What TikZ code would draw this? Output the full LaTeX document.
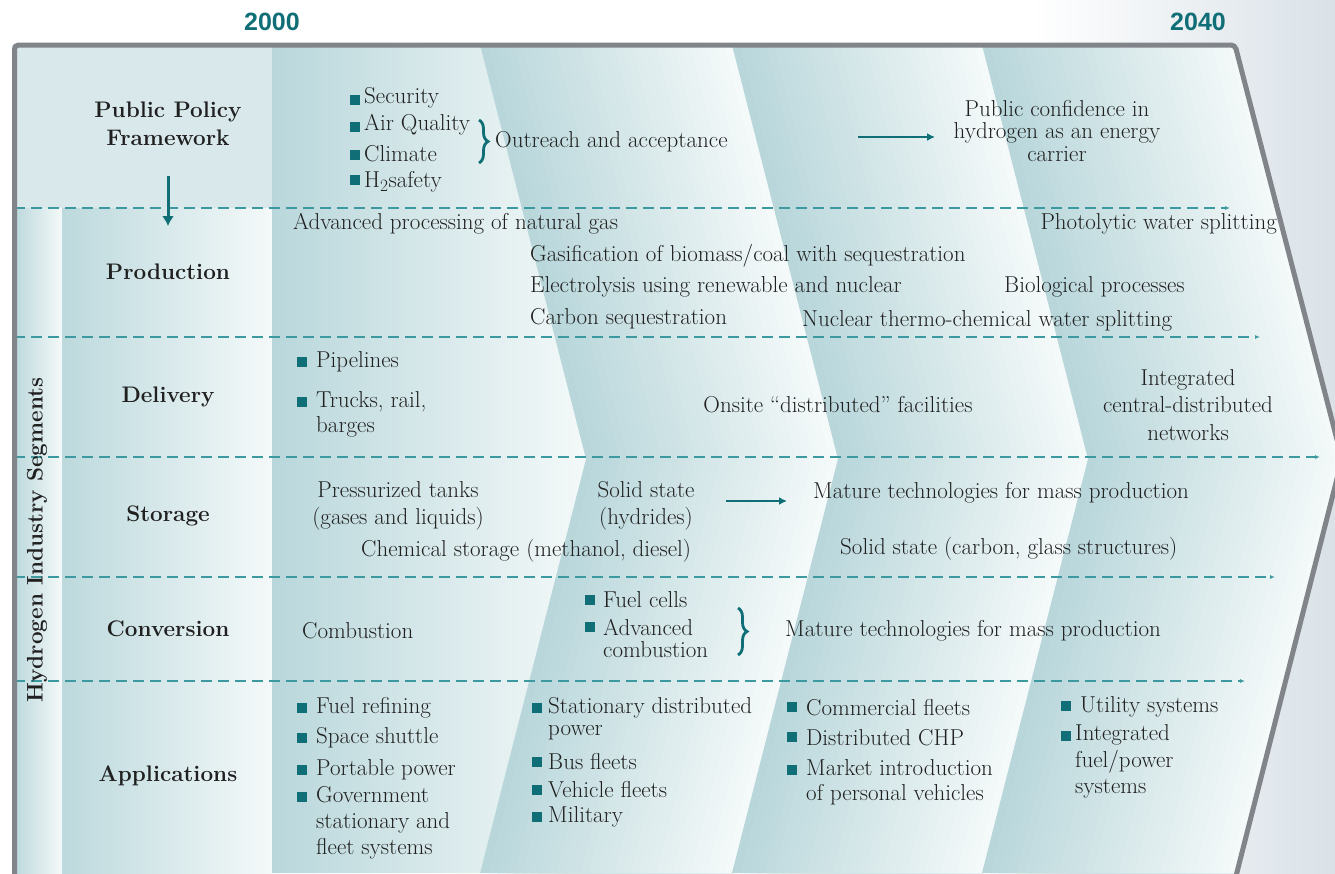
\documentclass[tikz,border=0pt]{standalone}
\usepackage{fontspec}
\newfontfamily\yearfont{Liberation Sans}
\usetikzlibrary{arrows.meta, decorations.pathreplacing}
\definecolor{tealD}{HTML}{0F6E76}
\definecolor{dashC}{HTML}{3D99A0}
\definecolor{txtC}{HTML}{202020}
\definecolor{frameC}{HTML}{818589}
\definecolor{bandD}{HTML}{B9D7DB}
\definecolor{bandL}{HTML}{F4F9F9}
\definecolor{leftT}{HTML}{D8E8EB}
\definecolor{bgR}{HTML}{DAE2E8}

\begin{document}
\begin{tikzpicture}[x=1pt, y=-1pt,
    txt/.style={font=\fontsize{23}{26}\selectfont, text=txtC, inner sep=0pt},
    seglabel/.style={font=\bfseries\fontsize{22.5}{28}\selectfont, text=txtC, align=center, inner sep=0pt},
    year/.style={font=\yearfont\bfseries\fontsize{25}{27}\selectfont, text=tealD},
    bul/.style={fill=tealD, minimum size=10pt, inner sep=0pt},
    segline/.style={draw=dashC, line width=1.4pt, dash pattern=on 11pt off 6pt, -{Latex[length=5pt,width=4pt]}},
    tarrow/.style={draw=tealD, line width=2.4pt, -{Latex[length=8pt,width=8pt]}},
    brc/.style={draw=tealD, line width=2.8pt, decorate, decoration={brace, amplitude=9pt}},
    outerframe/.style={draw=frameC, line width=5pt, rounded corners=4pt}]
\useasboundingbox (0,0) rectangle (1335,873);
\clip (0,0) rectangle (1335,873);

% background and columns
\fill[white] (0,0) rectangle (1335,873);
\shade[left color=white, right color=bgR] (1030,0) rectangle (1335,873);
\fill[leftT] (12,45) rectangle (272,208);
\shade[left color=bandD, right color=bandL] (12,208) rectangle (62,873);
\shade[left color=bandD!95!white, right color=bandL] (62,208) rectangle (272,873);
\shade[left color=bandD, right color=bandL] (272,45) -- (480,45) -- (586,459) -- (480,873) -- (272,873) -- cycle;
\foreach \a/\w in {480/252, 732/250, 982/255}{
  \foreach \k in {0,...,29}{
    \pgfmathsetmacro{\s}{\k*\w/30}
    \pgfmathtruncatemacro{\p}{\k*100/29}
    \fill[bandL!\p!bandD] (\a+\s,45) -- (\a+\s+106,459) -- (\a+\s,873) -- (\a+\w,873) -- (\a+\w+106,459) -- (\a+\w,45) -- cycle;
  }
}

% row separators
\foreach \y/\e [count=\i] in {208/1230, 337/1260, 457/1320, 577/1275, 681/1245}{
  \coordinate (ls\i) at (14,\y);
  \coordinate (le\i) at (\e,\y);
  \draw[segline] (ls\i) -- (le\i);
}

\draw[outerframe] (14.5,880) -- (14.5,45) -- (1235,45) -- (1342,459) -- (1235,880);

\node[year] (y2000) at (272,22) {2000};
\node[year] (y2040) at (1198,22) {2040};

% left labels
\node[seglabel] (ppf) at (168,124) {Public Policy\\Framework};
\node[seglabel] (prod) at (168,272) {Production};
\node[seglabel] (deli) at (168,397) {Delivery};
\node[seglabel] (stor) at (168,516) {Storage};
\node[seglabel] (conv) at (168,629) {Conversion};
\node[seglabel] (appl) at (168,776) {Applications};
\node[seglabel, rotate=90] (his) at (37,540) {Hydrogen Industry Segments};
\coordinate (pa1) at (168,176);
\coordinate (pa2) at (168,226);
\draw[tarrow, line width=3pt, -{Latex[length=10pt,width=12pt]}] (pa1) -- (pa2);

% public policy
\node[bul] (pb1) at (355,100) {};
\node[txt, anchor=west] (pt1) at (364,98) {Security};
\node[bul] (pb2) at (355,127) {};
\node[txt, anchor=west] (pt2) at (364,125) {Air Quality};
\node[bul] (pb3) at (355,155) {};
\node[txt, anchor=west] (pt3) at (364,154) {Climate};
\node[bul] (pb4) at (355,180) {};
\node[txt, anchor=west] (pt4) at (364,182) {H$_2$safety};
\coordinate (br1a) at (479,120);
\coordinate (br1b) at (479,163);
\draw[brc] (br1a) -- (br1b);
\node[txt, anchor=west] (outr) at (495,142) {Outreach and acceptance};
\coordinate (oa1) at (858,137);
\coordinate (oa2) at (935,137);
\draw[tarrow] (oa1) -- (oa2);
\node[txt, align=center, font=\fontsize{23}{22.5}\selectfont] (pcf) at (1057,131) {Public confidence in\\hydrogen as an energy\\carrier};

% production
\node[txt, anchor=west] (pr1) at (293,224) {Advanced processing of natural gas};
\node[txt, anchor=west] (pr2) at (530,256) {Gasification of biomass/coal with sequestration};
\node[txt, anchor=west] (pr3) at (530,287) {Electrolysis using renewable and nuclear};
\node[txt, anchor=west] (pr4) at (530,319) {Carbon sequestration};
\node[txt, anchor=east] (pr5) at (1277,224) {Photolytic water splitting};
\node[txt, anchor=west] (pr6) at (1004,287) {Biological processes};
\node[txt, anchor=west] (pr7) at (802,321) {Nuclear thermo-chemical water splitting};

% delivery
\node[bul] (db1) at (302,362) {};
\node[txt, anchor=west] (de1) at (316,362) {Pipelines};
\node[bul] (db2) at (302,402) {};
\node[txt, anchor=west, align=left, font=\fontsize{23}{25}\selectfont] (de2) at (316,414.5) {Trucks, rail,\\barges};
\node[txt] (de3) at (838,405) {Onsite ``distributed'' facilities};
\node[txt, align=center, font=\fontsize{23}{27.5}\selectfont] (de4) at (1188,405) {Integrated\\central-distributed\\networks};

% storage
\node[txt, align=center, font=\fontsize{23}{27}\selectfont] (st1) at (398,506) {Pressurized tanks\\(gases and liquids)};
\node[txt, align=center, font=\fontsize{23}{27}\selectfont] (st2) at (646,506) {Solid state\\(hydrides)};
\coordinate (sa1) at (726,501);
\coordinate (sa2) at (787,501);
\draw[tarrow] (sa1) -- (sa2);
\node[txt, anchor=west] (st3) at (813,493) {Mature technologies for mass production};
\node[txt, anchor=west] (st4) at (361,551) {Chemical storage (methanol, diesel)};
\node[txt, anchor=west] (st5) at (840,549) {Solid state (carbon, glass structures)};

% conversion
\node[txt, anchor=west] (cv1) at (302,631) {Combustion};
\node[bul] (cb1) at (590,600) {};
\node[txt, anchor=west] (cv2) at (603,600) {Fuel cells};
\node[bul] (cb2) at (590,627) {};
\node[txt, anchor=west, align=left, font=\fontsize{23}{22}\selectfont] (cv3) at (603,638) {Advanced\\combustion};
\coordinate (br2a) at (738,608);
\coordinate (br2b) at (738,655);
\draw[brc] (br2a) -- (br2b);
\node[txt, anchor=west] (cv4) at (785,631) {Mature technologies for mass production};

% applications
\node[bul] (ab1) at (302,708) {};
\node[txt, anchor=west] (ap1) at (316,708) {Fuel refining};
\node[bul] (ab2) at (302,738) {};
\node[txt, anchor=west] (ap2) at (316,738) {Space shuttle};
\node[bul] (ab3) at (302,770) {};
\node[txt, anchor=west] (ap3) at (316,770) {Portable power};
\node[bul] (ab4) at (302,797) {};
\node[txt, anchor=west, align=left] (ap4) at (316,823) {Government\\stationary and\\fleet systems};

\node[bul] (ab5) at (537,708) {};
\node[txt, anchor=west, align=left, font=\fontsize{23}{22}\selectfont] (ap5) at (548,719) {Stationary distributed\\power};
\node[bul] (ab6) at (537,762) {};
\node[txt, anchor=west] (ap6) at (548,762) {Bus fleets};
\node[bul] (ab7) at (537,790) {};
\node[txt, anchor=west] (ap7) at (548,790) {Vehicle fleets};
\node[bul] (ab8) at (537,817) {};
\node[txt, anchor=west] (ap8) at (548,817) {Military};

\node[bul] (ab9) at (792,707) {};
\node[txt, anchor=west] (ap9) at (806,708) {Commercial fleets};
\node[bul] (ab10) at (792,737) {};
\node[txt, anchor=west] (ap10) at (806,738) {Distributed CHP};
\node[bul] (ab11) at (792,770) {};
\node[txt, anchor=west, align=left, font=\fontsize{23}{25}\selectfont] (ap11) at (806,782.5) {Market introduction\\of personal vehicles};

\node[bul] (ab12) at (1066,706) {};
\node[txt, anchor=west] (ap12) at (1080,707) {Utility systems};
\node[bul] (ab13) at (1066,736) {};
\node[txt, anchor=west, align=left, font=\fontsize{23}{26.5}\selectfont] (ap13) at (1075,761.5) {Integrated\\fuel/power\\systems};
\end{tikzpicture}
\end{document}
